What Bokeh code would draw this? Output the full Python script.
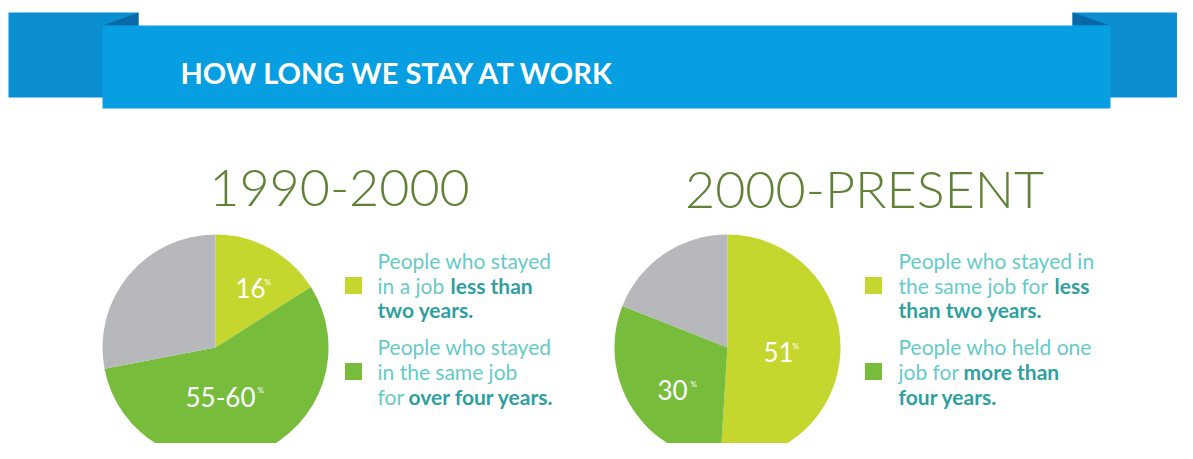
import numpy as np
from bokeh.plotting import figure
from bokeh.models import Range1d
from bokeh.core.properties import value
from bokeh.embed import file_html
from bokeh.resources import INLINE

# ---------------- data ----------------
banner_title = "HOW LONG WE STAY AT WORK"
periods = ["1990-2000", "2000-PRESENT"]
less_than_two = [16, 51]          # % stayed less than two years
more_than_four = [56, 30]         # % stayed more than four years
other_share = [28, 19]            # remainder (grey)
less_than_two_labels = ["16", "51"]
more_than_four_labels = ["55-60", "30"]

# legend text: each line is a list of (text, is_bold) segments
legend_left = [
    [("People who stayed", False)],
    [("in a job ", False), ("less than", True)],
    [("two years.", True)],
    [("People who stayed", False)],
    [("in the same job", False)],
    [("for ", False), ("over four years.", True)],
]
legend_right = [
    [("People who stayed in", False)],
    [("the same job for ", False), ("less", True)],
    [("than two years.", True)],
    [("People who held one", False)],
    [("job for ", False), ("more than", True)],
    [("four years.", True)],
]

# ---------------- style / layout ----------------
LIME = "#c5d62e"
GREEN = "#78bc3c"
GREY = "#b7b8bb"
BLUE = "#079fe2"
BLUE_TAIL = "#0b8fd2"
BLUE_FOLD = "#0a68a6"
TEAL = "#66cbc7"
TEAL_BOLD = "#2f9f9f"
OLIVE = "#5f8236"

W, H = 1177, 443
p = figure(width=W, height=H, x_range=Range1d(0, W), y_range=Range1d(-H, 0),
           output_backend="svg", toolbar_location=None, x_axis_type=None, y_axis_type=None,
           min_border=0, outline_line_color=None, background_fill_color="white",
           border_fill_color="white")
p.grid.visible = False

def Y(v):
    return [-t for t in v] if isinstance(v, (list, tuple)) else -v

# banner ribbon
p.quad(left=[8, 1072], right=[138, 1200], top=Y([12, 12]), bottom=Y([97, 97]),
       fill_color=BLUE_TAIL, line_color=None)
p.patches(xs=[[102, 138, 138], [1072, 1072, 1110]], ys=[Y([25, 12, 25]), Y([12, 25, 25])],
          fill_color=BLUE_FOLD, line_color=None)
p.quad(left=[102], right=[1110], top=Y([25]), bottom=Y([108]), fill_color=BLUE, line_color=None)
p.text(x=[180], y=Y([72]), text=[banner_title], text_font=value("Lato"), text_font_style="bold",
       text_font_size="29px", text_color="white", text_baseline="middle", text_align="left")

# period titles
title_cx = [339, 864]
p.text(x=title_cx, y=Y([187, 187]), text=periods, text_font=value("Lato Light"),
       text_font_size="52px", text_color=OLIVE, text_baseline="middle", text_align="center")

# pies
pie_cx = [215, 727]
pie_cy = 347
R = 113
colors = [LIME, GREEN, GREY]
for i in range(2):
    vals = np.array([less_than_two[i], more_than_four[i], other_share[i]], dtype=float)
    frac = vals / vals.sum()
    cum = np.concatenate([[0], np.cumsum(frac)])
    starts = np.pi / 2 - 2 * np.pi * cum[:-1]
    ends = np.pi / 2 - 2 * np.pi * cum[1:]
    p.wedge(x=[pie_cx[i]] * 3, y=[Y(pie_cy)] * 3, radius=R, start_angle=list(starts),
            end_angle=list(ends), direction="clock", fill_color=colors, line_color=None)

# pie labels (value + small superscript %)
lab_pos = {0: [(250, 287), (220, 396)], 1: [(778, 351), (672, 389)]}
for i in range(2):
    labs = [less_than_two_labels[i], more_than_four_labels[i]]
    xs = [lab_pos[i][0][0], lab_pos[i][1][0]]
    ys = [lab_pos[i][0][1], lab_pos[i][1][1]]
    p.text(x=xs, y=Y(ys), text=labs, text_font=value("Lato"), text_font_size="26px",
           text_color="white", text_baseline="middle", text_align="center")
pct_x = [264, 257, 792, 690]
pct_y = [281, 389, 345, 383]
p.text(x=pct_x, y=Y(pct_y), text=["%"] * 4, text_font=value("Lato"), text_font_size="8px",
       text_color="white", text_baseline="middle", text_align="left")

# legends
line_y = [260, 285, 309, 346, 371, 396]
sq_y = [285, 371]
sq_x = [353, 873]
p.rect(x=[sq_x[0]] * 2 + [sq_x[1]] * 2, y=Y(sq_y + sq_y), width=17, height=17,
       fill_color=[LIME, GREEN, LIME, GREEN], line_color=None)

text_x0 = [377, 898]
seg_offsets = {  # x start of 2nd segment on a line
    (0, 1): 450, (0, 5): 408,
    (1, 1): 1054, (1, 4): 963,
}
for li, legend in enumerate([legend_left, legend_right]):
    for row, segs in enumerate(legend):
        for si, (txt, bold) in enumerate(segs):
            x = text_x0[li] if si == 0 else seg_offsets[(li, row)]
            p.text(x=[x], y=Y([line_y[row]]), text=[txt], text_font=value("Lato"),
                   text_font_style="bold" if bold else "normal", text_font_size="21px",
                   text_color=TEAL_BOLD if bold else TEAL, text_baseline="middle",
                   text_align="left")

open("out.html", "w").write(file_html(p, INLINE))
